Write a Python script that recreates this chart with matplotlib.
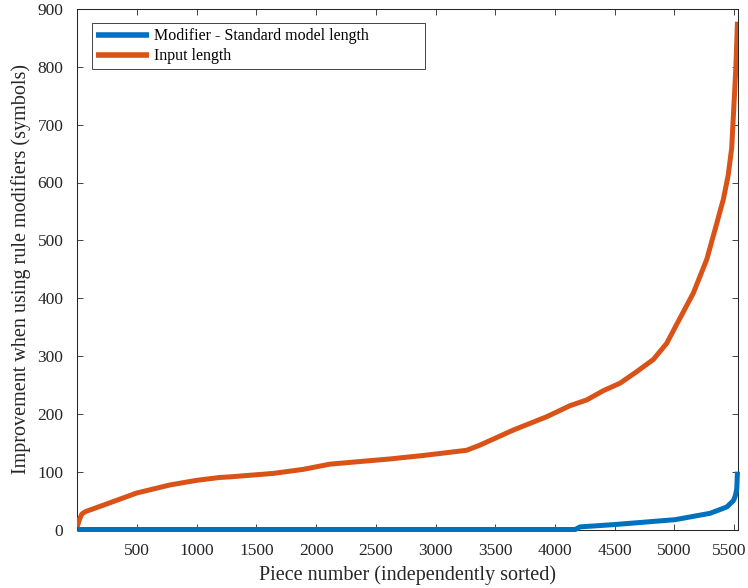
import matplotlib
matplotlib.use("Agg")
import matplotlib.pyplot as plt
import matplotlib.transforms as mtransforms

# Data
input_x = [1, 20, 40, 70, 218, 497, 776, 1000, 1195, 1279, 1642, 1893, 2116,
           2395, 2619, 2898, 3261, 3373, 3652, 3931, 4125, 4266, 4405, 4545,
           4685, 4824, 4936, 5020, 5159, 5271, 5341, 5410, 5450, 5480, 5500,
           5515, 5528]
input_len = [5, 18, 27, 31, 42, 63, 77, 85, 90, 91, 97, 104, 113, 118, 122,
             128, 137, 146, 172, 195, 214, 224, 240, 253, 273, 294, 322, 355,
             409, 467, 519, 571, 612, 660, 740, 800, 878]

mod_x = [1, 4170, 4210, 4503, 5006, 5299, 5439, 5494, 5510, 5522, 5528]
mod_len = [0, 0, 4.5, 8.6, 17, 28, 39, 50, 58, 70, 100]

x_ticks = [500, 1000, 1500, 2000, 2500, 3000, 3500, 4000, 4500, 5000, 5500]
y_ticks = [0, 100, 200, 300, 400, 500, 600, 700, 800, 900]

plt.rcParams['font.family'] = ['Liberation Serif', 'DejaVu Serif']

fig = plt.figure(figsize=(7.48, 5.88), dpi=100)
ax = fig.add_axes([77.3 / 748, 1 - 529.5 / 588, (737.7 - 77.3) / 748, (529.5 - 9) / 588])

blue = '#0072BD'
orange = '#D95319'
ax.plot(mod_x, mod_len, color=blue, lw=3.6, label='Modifier - Standard model length',
        solid_capstyle='butt', zorder=3, clip_on=False)
ax.plot(input_x, input_len, color=orange, lw=3.6, label='Input length',
        solid_capstyle='butt', zorder=3)

ax.set_xlim(1, 5530)
ax.set_ylim(0, 900)
ax.set_xticks(x_ticks)
ax.set_yticks(y_ticks)
ax.tick_params(direction='in', top=True, right=True, length=4.5, width=0.6,
               labelsize=12.5, colors='#262626', pad=10)
for s in ax.spines.values():
    s.set_linewidth(0.75)
    s.set_color('#262626')

ax.set_xlabel('Piece number (independently sorted)', fontsize=14.5, color='#262626', labelpad=4)
ax.set_ylabel('Improvement when using rule modifiers (symbols)', fontsize=14.5,
              color='#262626', labelpad=4.5)

# keep the last x tick label inside the figure (as in the reference)
fig.canvas.draw()
last = ax.get_xticklabels()[-1]
last.set_transform(last.get_transform() +
                   mtransforms.ScaledTranslation(-5 / 100, 0, fig.dpi_scale_trans))

leg = ax.legend(loc='upper left', bbox_to_anchor=(0.0218, 0.9725, 0.5047, 0.0), borderaxespad=0,
                mode='expand',
                fancybox=False, edgecolor='#262626', framealpha=1, fontsize=11.5,
                handlelength=3.3, handletextpad=0.3, borderpad=0.3, labelspacing=0.25)
leg.get_frame().set_linewidth(0.6)
for line in leg.get_lines():
    line.set_linewidth(4)

fig.savefig('out.png', dpi=100)
